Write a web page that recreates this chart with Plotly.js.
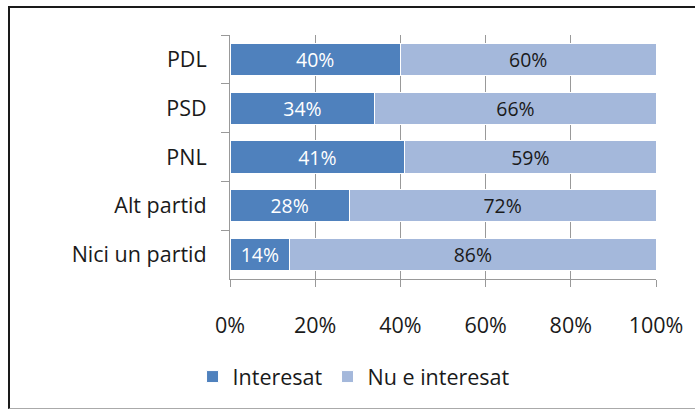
<!DOCTYPE html>
<html>
<head>
<meta charset="utf-8">
<script src="https://cdn.plot.ly/plotly-3.0.1.min.js"></script>
<style>
  html, body { margin: 0; padding: 0; background: #fff; }
  #wrap { position: relative; width: 695px; height: 409px; overflow: hidden; }
  #frame { position: absolute; left: 8px; top: 6px; width: 700px; height: 400px;
           border-top: 2px solid #1a1a1a; border-left: 2px solid #1a1a1a; border-bottom: 1px solid #aaa; }
  #chart { position: absolute; left: 0; top: 0; width: 695px; height: 409px; }
</style>
</head>
<body>
<div id="wrap">
  <div id="frame"></div>
  <div id="chart"></div>
</div>
<script>
const categories = ["PDL", "PSD", "PNL", "Alt partid", "Nici un partid"];
const interesat = [0.40, 0.34, 0.41, 0.28, 0.14];
const nuInteresat = [0.60, 0.66, 0.59, 0.72, 0.86];
const xTickVals = [0, 0.2, 0.4, 0.6, 0.8, 1.0];
const xTickText = ["0%", "20%", "40%", "60%", "80%", "100%"];

const font = "'Open Sans', sans-serif";
const fs = 21.5;

const traces = [
  {
    type: "bar", orientation: "h", name: "Interesat",
    y: categories, x: interesat,
    marker: { color: "#4F81BD", line: { color: "#ffffff", width: 1 } },
    text: interesat.map(v => Math.round(v * 100) + "%"),
    textposition: "inside", insidetextanchor: "middle",
    textfont: { color: "#ffffff", size: fs, family: font },
    hoverinfo: "skip"
  },
  {
    type: "bar", orientation: "h", name: "Nu e interesat",
    y: categories, x: nuInteresat,
    marker: { color: "#A4B8DB", line: { color: "#ffffff", width: 1 } },
    text: nuInteresat.map(v => Math.round(v * 100) + "%"),
    textposition: "inside", insidetextanchor: "middle",
    textfont: { color: "#1a1a1a", size: fs, family: font },
    hoverinfo: "skip"
  }
];

const layout = {
  width: 695, height: 409,
  margin: { l: 230, r: 39, t: 35, b: 122 },
  paper_bgcolor: "rgba(0,0,0,0)",
  plot_bgcolor: "rgba(0,0,0,0)",
  barmode: "stack",
  bargap: 0.34,
  uniformtext: { mode: false },
  showlegend: true,
  legend: {
    orientation: "h", x: 0.29, xanchor: "center", y: -0.40, yanchor: "middle",
    font: { family: font, size: fs, color: "#1a1a1a" },
    itemwidth: 30, traceorder: "normal"
  },
  font: { family: font, size: fs, color: "#1a1a1a" },
  xaxis: {
    range: [0, 1], tickvals: xTickVals, ticktext: xTickText,
    showgrid: true, gridcolor: "#999999", gridwidth: 1,
    showline: true, linecolor: "#999999", linewidth: 1,
    ticks: "outside", ticklen: 7, tickcolor: "#999999",
    ticklabelstandoff: 20,
    zeroline: false, fixedrange: true,
    tickfont: { family: font, size: fs, color: "#1a1a1a" }
  },
  yaxis: {
    autorange: "reversed", type: "category",
    showline: true, linecolor: "#999999", linewidth: 1,
    ticks: "outside", ticklen: 8, tickcolor: "#999999", tickson: "boundaries",
    ticklabelstandoff: 18,
    showgrid: false, fixedrange: true,
    tickfont: { family: font, size: fs, color: "#1a1a1a" }
  }
};

Plotly.newPlot("chart", traces, layout, { displayModeBar: false, staticPlot: true });
</script>
</body>
</html>
